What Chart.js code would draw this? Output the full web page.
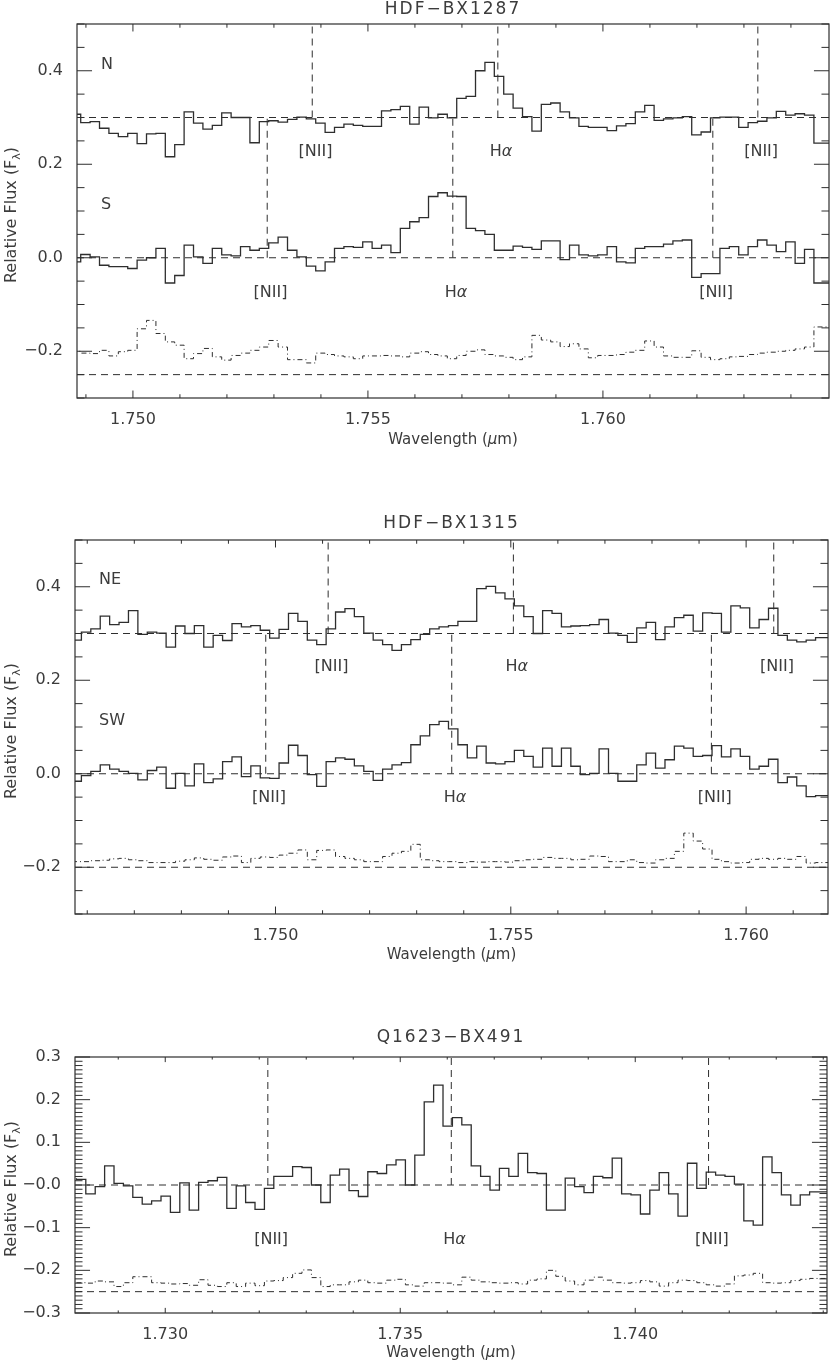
<!DOCTYPE html>
<html>
<head>
<meta charset="utf-8">
<script src="https://cdn.jsdelivr.net/npm/chart.js@4.4.1/dist/chart.umd.min.js"></script>
<style>
  html, body { margin: 0; padding: 0; background: #fff; }
  body { position: relative; width: 830px; height: 1364px; overflow: hidden; }
  canvas { position: absolute; left: 0; }
</style>
</head>
<body>
<canvas id="bx1287"></canvas>
<canvas id="bx1315"></canvas>
<canvas id="bx491"></canvas>
<script>
// Spectral bins (um)
const binWidth = 0.0002;

// HDF-BX1287: N and S components + sky residual
const bx1287Start = 1.748689;
const bx1287N = [
  0.288, 0.307, 0.289, 0.291, 0.277, 0.266, 0.259, 0.266, 0.244, 0.265,
  0.266, 0.216, 0.242, 0.312, 0.288, 0.275, 0.283, 0.310, 0.300, 0.300,
  0.246, 0.291, 0.293, 0.290, 0.296, 0.301, 0.297, 0.288, 0.268, 0.279,
  0.286, 0.283, 0.281, 0.281, 0.314, 0.317, 0.324, 0.286, 0.322, 0.299,
  0.307, 0.299, 0.341, 0.345, 0.400, 0.418, 0.388, 0.350, 0.320, 0.302,
  0.271, 0.328, 0.331, 0.312, 0.299, 0.281, 0.279, 0.279, 0.272, 0.282,
  0.287, 0.312, 0.326, 0.294, 0.297, 0.299, 0.302, 0.263, 0.269, 0.299,
  0.301, 0.301, 0.279, 0.289, 0.292, 0.299, 0.313, 0.305, 0.308, 0.305,
  0.245];
const bx1287S = [
  -0.011, -0.009, 0.007, 0.002, -0.016, -0.019, -0.019, -0.023, -0.005, 0.000,
  0.020, -0.054, -0.038, 0.027, 0.002, -0.012, 0.020, 0.006, 0.004, 0.024,
  0.016, 0.020, 0.032, 0.044, 0.016, 0.002, -0.018, -0.028, -0.009, 0.020,
  0.024, 0.022, 0.034, 0.020, 0.027, 0.011, 0.063, 0.077, 0.086, 0.131,
  0.139, 0.132, 0.131, 0.063, 0.058, 0.050, 0.016, 0.016, 0.025, 0.022,
  0.018, 0.036, 0.036, -0.004, 0.027, 0.006, 0.004, 0.006, 0.024, -0.009,
  -0.011, 0.020, 0.024, 0.024, 0.029, 0.036, 0.038, -0.042, -0.034, -0.034,
  0.020, 0.024, 0.006, 0.024, 0.038, 0.027, 0.013, 0.034, -0.012, 0.018,
  -0.054];
const bx1287Sky = [
  -0.200, -0.200, -0.204, -0.205, -0.198, -0.210, -0.201, -0.198, -0.152, -0.134,
  -0.162, -0.180, -0.187, -0.216, -0.205, -0.194, -0.212, -0.219, -0.209, -0.204,
  -0.198, -0.191, -0.177, -0.191, -0.218, -0.218, -0.225, -0.204, -0.207, -0.210,
  -0.212, -0.216, -0.210, -0.210, -0.209, -0.210, -0.212, -0.204, -0.201, -0.207,
  -0.210, -0.216, -0.209, -0.200, -0.197, -0.207, -0.210, -0.213, -0.218, -0.212,
  -0.166, -0.176, -0.180, -0.190, -0.184, -0.195, -0.214, -0.209, -0.209, -0.207,
  -0.202, -0.198, -0.178, -0.191, -0.210, -0.213, -0.213, -0.199, -0.213, -0.218,
  -0.216, -0.212, -0.211, -0.207, -0.204, -0.202, -0.200, -0.198, -0.195, -0.191,
  -0.148];

// HDF-BX1315: NE and SW components + sky residual
const bx1315Start = 1.745676;
const bx1315NE = [
  0.334, 0.286, 0.303, 0.310, 0.337, 0.319, 0.324, 0.349, 0.298, 0.303,
  0.301, 0.271, 0.316, 0.300, 0.317, 0.271, 0.296, 0.285, 0.321, 0.314,
  0.317, 0.307, 0.290, 0.309, 0.343, 0.326, 0.286, 0.276, 0.310, 0.346,
  0.353, 0.336, 0.301, 0.286, 0.276, 0.264, 0.276, 0.287, 0.298, 0.310,
  0.314, 0.317, 0.326, 0.326, 0.396, 0.401, 0.387, 0.374, 0.359, 0.336,
  0.300, 0.349, 0.343, 0.314, 0.316, 0.317, 0.319, 0.330, 0.301, 0.296,
  0.281, 0.312, 0.324, 0.287, 0.314, 0.334, 0.339, 0.305, 0.344, 0.343,
  0.303, 0.359, 0.355, 0.312, 0.330, 0.354, 0.296, 0.286, 0.282, 0.286,
  0.291];
const bx1315SW = [
  0.023, -0.016, -0.004, 0.005, 0.019, 0.010, 0.005, 0.001, -0.013, 0.007,
  0.014, -0.031, 0.001, -0.026, 0.021, -0.019, -0.011, 0.026, 0.036, -0.006,
  0.017, -0.009, -0.010, 0.023, 0.061, 0.039, -0.002, -0.027, 0.026, 0.034,
  0.031, 0.017, 0.005, -0.014, 0.010, 0.019, 0.024, 0.062, 0.081, 0.105,
  0.112, 0.096, 0.062, 0.034, 0.059, 0.023, 0.021, 0.026, 0.050, 0.037,
  0.014, 0.055, 0.016, 0.055, 0.016, -0.002, 0.001, 0.053, 0.001, -0.016,
  -0.016, 0.019, 0.044, 0.012, 0.030, 0.059, 0.055, 0.037, 0.039, 0.060,
  0.036, 0.053, 0.037, 0.010, 0.016, 0.031, -0.019, -0.007, -0.026, -0.049,
  -0.047];
const bx1315Sky = [
  -0.188, -0.188, -0.188, -0.186, -0.185, -0.182, -0.181, -0.184, -0.186, -0.190,
  -0.190, -0.190, -0.187, -0.184, -0.180, -0.183, -0.185, -0.178, -0.176, -0.190,
  -0.181, -0.178, -0.179, -0.174, -0.170, -0.163, -0.184, -0.164, -0.163, -0.177,
  -0.181, -0.184, -0.188, -0.188, -0.177, -0.170, -0.166, -0.151, -0.184, -0.186,
  -0.188, -0.188, -0.190, -0.188, -0.189, -0.188, -0.188, -0.189, -0.186, -0.184,
  -0.183, -0.179, -0.181, -0.181, -0.184, -0.183, -0.176, -0.177, -0.188, -0.188,
  -0.184, -0.190, -0.191, -0.184, -0.181, -0.166, -0.127, -0.144, -0.161, -0.183,
  -0.188, -0.191, -0.190, -0.183, -0.181, -0.183, -0.181, -0.183, -0.177, -0.191,
  -0.190];

// Q1623-BX491 + sky residual
const bx491Start = 1.72811;
const bx491Flux = [
  0.016, 0.013, -0.021, -0.004, 0.045, 0.004, -0.002, -0.029, -0.045, -0.037,
  -0.026, -0.064, 0.005, -0.059, 0.006, 0.010, 0.018, -0.055, -0.002, -0.041,
  -0.057, -0.008, 0.020, 0.020, 0.043, 0.041, 0.000, -0.041, 0.023, 0.037,
  -0.013, -0.027, 0.031, 0.027, 0.047, 0.059, 0.000, 0.070, 0.195, 0.234,
  0.138, 0.158, 0.141, 0.045, 0.020, -0.012, 0.039, 0.020, 0.074, 0.029,
  0.027, -0.059, -0.059, 0.016, -0.004, -0.018, 0.020, 0.017, 0.063, -0.021,
  -0.023, -0.068, -0.012, 0.029, -0.021, -0.073, 0.051, -0.008, 0.030, 0.023,
  0.020, 0.002, -0.084, -0.094, 0.066, 0.029, -0.023, -0.047, -0.023, -0.016,
  -0.016];
const bx491Sky = [
  -0.229, -0.229, -0.230, -0.225, -0.227, -0.238, -0.229, -0.215, -0.215, -0.229,
  -0.230, -0.232, -0.231, -0.235, -0.222, -0.235, -0.238, -0.229, -0.238, -0.230,
  -0.236, -0.225, -0.224, -0.217, -0.207, -0.199, -0.217, -0.238, -0.234, -0.234,
  -0.227, -0.223, -0.229, -0.230, -0.223, -0.221, -0.234, -0.237, -0.229, -0.229,
  -0.230, -0.234, -0.216, -0.223, -0.227, -0.229, -0.230, -0.229, -0.232, -0.223,
  -0.220, -0.200, -0.214, -0.225, -0.234, -0.223, -0.216, -0.223, -0.229, -0.230,
  -0.229, -0.224, -0.227, -0.237, -0.229, -0.223, -0.224, -0.229, -0.234, -0.237,
  -0.232, -0.213, -0.211, -0.207, -0.229, -0.230, -0.229, -0.224, -0.221, -0.219,
  -0.219];

// Expected [NII], Halpha, [NII] wavelengths of each component
const bx1287LinesN = [1.753815, 1.757764, 1.763296];
const bx1287LinesS = [1.752857, 1.756806, 1.762338];
const bx1315LinesNE = [1.751119, 1.755055, 1.760587];
const bx1315LinesSW = [1.749793, 1.753745, 1.759262];
const bx491Lines = [1.732183, 1.736086, 1.741560];

const INK = '#2e2e2e';
const TEXT = '#3c3c3c';
const FONT = '"DejaVu Sans", sans-serif';

const panels = [
  {
    id: 'bx1287', title: 'HDF−BX1287', top: 0, height: 460, titleY: 10, xTitleY: 440,
    box: { left: 77, right: 829, top: 24, bottom: 398 },
    xMin: 1.74881, xMax: 1.76481, yMin: -0.3, yMax: 0.5, yMajor: 0.2, yMinor: 0.05, zeroLabel: '0.0',
    start: bx1287Start, spectra: [bx1287N, bx1287S], sky: bx1287Sky,
    levels: [0.3, 0.0, -0.25],
    markers: [
      { lines: bx1287LinesN, from: 0.3, to: 0.5, labelY: 0.227 },
      { lines: bx1287LinesS, from: 0.0, to: 0.3, labelY: -0.076 }
    ],
    tags: [{ text: 'N', y: 0.413 }, { text: 'S', y: 0.113 }]
  },
  {
    id: 'bx1315', title: 'HDF−BX1315', top: 500, height: 470, titleY: 524, xTitleY: 955,
    box: { left: 75, right: 828, top: 540, bottom: 914 },
    xMin: 1.74574, xMax: 1.76174, yMin: -0.3, yMax: 0.5, yMajor: 0.2, yMinor: 0.05, zeroLabel: '0.0',
    start: bx1315Start, spectra: [bx1315NE, bx1315SW], sky: bx1315Sky,
    levels: [0.3, 0.0, -0.2],
    markers: [
      { lines: bx1315LinesNE, from: 0.3, to: 0.5, labelY: 0.229 },
      { lines: bx1315LinesSW, from: 0.0, to: 0.3, labelY: -0.051 }
    ],
    tags: [{ text: 'NE', y: 0.414 }, { text: 'SW', y: 0.114 }]
  },
  {
    id: 'bx491', title: 'Q1623−BX491', top: 1020, height: 344, titleY: 1038, xTitleY: 1353,
    box: { left: 75, right: 827, top: 1057, bottom: 1313 },
    xMin: 1.72808, xMax: 1.74408, yMin: -0.3, yMax: 0.3, yMajor: 0.1, yMinor: 0.01, zeroLabel: '−0.0',
    start: bx491Start, spectra: [bx491Flux], sky: bx491Sky,
    levels: [0.0, -0.25],
    markers: [
      { lines: bx491Lines, from: 0.0, to: 0.3, labelY: -0.129 }
    ],
    tags: []
  }
];

const lineNames = ['[NII]', 'Hα', '[NII]'];

// histogram points: left edge of every bin, plus closing right edge
function histogram(start, values) {
  const pts = values.map((v, i) => ({ x: start + i * binWidth, y: v }));
  pts.push({ x: start + values.length * binWidth, y: values[values.length - 1] });
  return pts;
}

function fmtY(v, zero) {
  if (Math.abs(v) < 1e-9) return zero;
  return (v < 0 ? '−' : '') + Math.abs(v).toFixed(1);
}

function steps(min, max, step) {
  const out = [];
  for (let k = Math.ceil(min / step - 1e-6); k <= Math.floor(max / step + 1e-6); k++) out.push(k * step);
  return out;
}

function isMultiple(v, step) {
  return Math.abs(v / step - Math.round(v / step)) < 1e-6;
}

// parts: [text, style] where style is '', 'i' (italic) or 'sub'
function richText(ctx, parts, x, y, size) {
  const fontOf = s => s === 'i' ? `italic ${size}px ${FONT}` : s === 'sub' ? `${Math.round(size * 0.7)}px ${FONT}` : `${size}px ${FONT}`;
  const widths = parts.map(([t, s]) => { ctx.font = fontOf(s); return ctx.measureText(t).width; });
  let cx = x - widths.reduce((a, b) => a + b, 0) / 2;
  ctx.textAlign = 'left';
  ctx.textBaseline = 'middle';
  parts.forEach(([t, s], i) => {
    ctx.font = fontOf(s);
    ctx.fillText(t, cx, y + (s === 'sub' ? size * 0.3 : 0));
    cx += widths[i];
  });
}

const panelById = {};
panels.forEach(p => { panelById[p.id] = p; });

// IDL-style box: inward ticks on all four sides, titles and line labels
const idlFrame = {
  id: 'idlFrame',
  afterDraw(chart) {
    const p = panelById[chart.canvas.id];
    const ctx = chart.ctx, a = chart.chartArea;
    const xs = chart.scales.x, ys = chart.scales.y;
    const w = a.right - a.left, h = a.bottom - a.top;
    ctx.save();
    ctx.strokeStyle = INK;
    ctx.lineWidth = 1.2;
    ctx.strokeRect(a.left, a.top, w, h);

    ctx.lineWidth = 1;
    ctx.beginPath();
    steps(p.xMin, p.xMax, 0.001).forEach(v => {
      const len = (isMultiple(v, 0.005) ? 0.02 : 0.01) * h;
      const px = xs.getPixelForValue(v);
      ctx.moveTo(px, a.bottom); ctx.lineTo(px, a.bottom - len);
      ctx.moveTo(px, a.top); ctx.lineTo(px, a.top + len);
    });
    steps(p.yMin, p.yMax, p.yMinor).forEach(v => {
      const len = (isMultiple(v, p.yMajor) ? 0.02 : 0.01) * w;
      const py = ys.getPixelForValue(v);
      ctx.moveTo(a.left, py); ctx.lineTo(a.left + len, py);
      ctx.moveTo(a.right, py); ctx.lineTo(a.right - len, py);
    });
    ctx.stroke();

    ctx.fillStyle = TEXT;
    // panel title
    ctx.font = `17px ${FONT}`;
    ctx.letterSpacing = '2px';
    ctx.textAlign = 'center';
    ctx.textBaseline = 'middle';
    ctx.fillText(p.title, (a.left + a.right) / 2, p.titleY - p.top);
    ctx.letterSpacing = '0px';

    // axis titles
    richText(ctx, [['Wavelength (', ''], ['μ', 'i'], ['m)', '']], (a.left + a.right) / 2, p.xTitleY - p.top, 15);
    ctx.save();
    ctx.translate(12, (a.top + a.bottom) / 2 + 4);
    ctx.rotate(-Math.PI / 2);
    richText(ctx, [['Relative Flux (F', ''], ['λ', 'sub'], [')', '']], 0, 0, 16);
    ctx.restore();

    // line identifications
    p.markers.forEach(m => {
      m.lines.forEach((lam, i) => {
        const px = xs.getPixelForValue(lam + 0.00007);
        const py = ys.getPixelForValue(m.labelY);
        if (lineNames[i] === 'Hα') richText(ctx, [['H', ''], ['α', 'i']], px, py, 16);
        else richText(ctx, [[lineNames[i], '']], px, py, 16);
      });
    });

    // component tags
    ctx.font = `16px ${FONT}`;
    ctx.textAlign = 'left';
    ctx.textBaseline = 'middle';
    p.tags.forEach(t => ctx.fillText(t.text, a.left + 24, ys.getPixelForValue(t.y)));
    ctx.restore();
  }
};

Chart.defaults.font.family = FONT;
Chart.defaults.color = TEXT;

panels.forEach(p => {
  const canvas = document.getElementById(p.id);
  canvas.width = 830;
  canvas.height = p.height;
  canvas.style.width = '830px';
  canvas.style.height = p.height + 'px';
  canvas.style.top = p.top + 'px';

  const datasets = [];
  p.spectra.forEach(vals => datasets.push({
    data: histogram(p.start, vals), stepped: 'after', borderColor: INK, borderWidth: 1.3
  }));
  datasets.push({
    data: histogram(p.start, p.sky), stepped: 'after', borderColor: INK, borderWidth: 1, borderDash: [5, 3, 1, 3]
  });
  p.levels.forEach(y => datasets.push({
    data: [{ x: p.xMin, y: y }, { x: p.xMax, y: y }], borderColor: INK, borderWidth: 1, borderDash: [7, 5]
  }));
  p.markers.forEach(m => m.lines.forEach(x => datasets.push({
    data: [{ x: x, y: m.from }, { x: x, y: m.to }], borderColor: INK, borderWidth: 1, borderDash: [7, 5]
  })));

  new Chart(canvas, {
    type: 'line',
    data: { datasets: datasets },
    options: {
      responsive: false,
      animation: false,
      events: [],
      layout: { padding: { left: 0, right: 830 - p.box.right, top: p.box.top - p.top, bottom: 0 } },
      elements: { point: { radius: 0 }, line: { tension: 0, fill: false } },
      plugins: { legend: { display: false }, tooltip: { enabled: false }, title: { display: false } },
      scales: {
        x: {
          type: 'linear', min: p.xMin, max: p.xMax,
          grid: { display: false }, border: { display: false },
          ticks: {
            autoSkip: false, maxRotation: 0,
            padding: 4, color: TEXT, font: { size: 16 },
            callback: v => v.toFixed(3)
          },
          afterBuildTicks: s => { s.ticks = steps(p.xMin, p.xMax, 0.005).map(v => ({ value: v })); },
          afterFit: s => { s.height = p.height - (p.box.bottom - p.top); }
        },
        y: {
          type: 'linear', min: p.yMin, max: p.yMax,
          grid: { display: false }, border: { display: false },
          ticks: {
            autoSkip: false,
            padding: 6, color: TEXT, font: { size: 16 },
            callback: v => fmtY(v, p.zeroLabel)
          },
          afterBuildTicks: s => { s.ticks = steps(p.yMin, p.yMax, p.yMajor).map(v => ({ value: v })); },
          afterFit: s => { s.width = p.box.left; }
        }
      }
    },
    plugins: [idlFrame]
  });
});
</script>
</body>
</html>
